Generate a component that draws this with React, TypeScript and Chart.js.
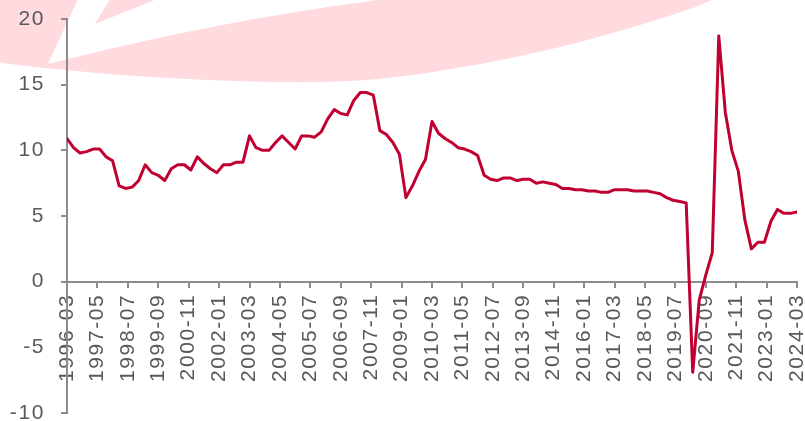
import React, { useEffect, useRef } from 'react';
import { Chart, registerables } from 'chart.js';

Chart.register(...registerables);

// Quarterly series, 1996-03 .. 2024-03 (cumulative YoY, %)
const startYear = 1996;
const gdpGrowth: number[] = [
  10.9, 10.2, 9.8, 9.9, 10.1, 10.1, 9.5, 9.2, 7.3, 7.1, 7.2, 7.7,
  8.9, 8.3, 8.1, 7.7, 8.6, 8.9, 8.9, 8.5, 9.5, 9.0, 8.6, 8.3,
  8.9, 8.9, 9.1, 9.1, 11.1, 10.2, 10.0, 10.0, 10.6, 11.1, 10.6, 10.1,
  11.1, 11.1, 11.0, 11.4, 12.4, 13.1, 12.8, 12.7, 13.8, 14.4, 14.4, 14.2,
  11.5, 11.2, 10.6, 9.7, 6.4, 7.3, 8.4, 9.3, 12.2, 11.3, 10.9, 10.6,
  10.2, 10.1, 9.9, 9.6, 8.1, 7.8, 7.7, 7.9, 7.9, 7.7, 7.8, 7.8,
  7.5, 7.6, 7.5, 7.4, 7.1, 7.1, 7.0, 7.0, 6.9, 6.9, 6.8, 6.8,
  7.0, 7.0, 7.0, 6.9, 6.9, 6.9, 6.8, 6.7, 6.4, 6.2, 6.1, 6.0,
  -6.9, -1.4, 0.5, 2.2, 18.7, 12.9, 10.0, 8.4, 4.7, 2.5, 3.0, 3.0,
  4.6, 5.5, 5.2, 5.2, 5.3,
];
const quarterMonths = ['03', '06', '09', '12'];
const quarterLabels: string[] = gdpGrowth.map(
  (_, i) => `${startYear + Math.floor(i / 4)}-${quarterMonths[i % 4]}`
);

const xTickLabels: string[] = [
  '1996-03', '1997-05', '1998-07', '1999-09', '2000-11', '2002-01', '2003-03',
  '2004-05', '2005-07', '2006-09', '2007-11', '2009-01', '2010-03', '2011-05',
  '2012-07', '2013-09', '2014-11', '2016-01', '2017-03', '2018-05', '2019-07',
  '2020-09', '2021-11', '2023-01', '2024-03',
];
const xTickStepMonths = 14;
const yMin = -10;
const yMax = 20;
const yStep = 5;

const LINE_COLOR = '#C00030';
const AXIS_COLOR = '#8c8c8c';
const TEXT_COLOR = '#595959';
const FONT_FAMILY = '"Liberation Sans", Arial, sans-serif';

function monthsFromStart(label: string): number {
  const [y, m] = label.split('-').map(Number);
  return (y - startYear) * 12 + (m - 3);
}

const watermarkPlugin = {
  id: 'watermark',
  beforeDraw(chart: any) {
    const ctx = chart.ctx as CanvasRenderingContext2D;
    ctx.save();
    // pink swoosh background
    ctx.fillStyle = 'rgb(255,219,223)';
    const pts = [
      [-20, 60], [0, 63], [100, 74], [200, 80], [300, 83], [380, 80],
      [480, 65], [580, 43], [680, 13], [713, 0], [730, -10],
    ];
    ctx.beginPath();
    ctx.moveTo(-20, -10);
    ctx.lineTo(pts[0][0], pts[0][1]);
    for (let k = 1; k < pts.length - 1; k++) {
      const mx = (pts[k][0] + pts[k + 1][0]) / 2;
      const my = (pts[k][1] + pts[k + 1][1]) / 2;
      ctx.quadraticCurveTo(pts[k][0], pts[k][1], mx, my);
    }
    ctx.lineTo(pts[pts.length - 1][0], pts[pts.length - 1][1]);
    ctx.closePath();
    ctx.fill();
    // white arrow / band
    ctx.fillStyle = '#ffffff';
    ctx.beginPath();
    ctx.moveTo(78, -1);
    ctx.lineTo(48, 64);
    ctx.quadraticCurveTo(220, 20, 385, -1);
    ctx.lineTo(157, -1);
    ctx.lineTo(95, 24);
    ctx.lineTo(110, -1);
    ctx.closePath();
    ctx.fill();
    ctx.restore();
    (ctx as any).letterSpacing = '1.6px';
  },
};

export default function App() {
  const canvasRef = useRef<HTMLCanvasElement | null>(null);

  useEffect(() => {
    document.body.style.margin = '0';
    const canvas = canvasRef.current;
    if (!canvas) return;
    const data = gdpGrowth.map((v, i) => ({ x: monthsFromStart(quarterLabels[i]), y: v }));
    const maxMonth = monthsFromStart(xTickLabels[xTickLabels.length - 1]);
    const font = { family: FONT_FAMILY, size: 21 };
    const chart = new Chart(canvas, {
      type: 'line',
      data: {
        datasets: [
          {
            label: 'GDP',
            data,
            borderColor: LINE_COLOR,
            backgroundColor: LINE_COLOR,
            borderWidth: 3,
            pointRadius: 0,
            tension: 0,
            borderJoinStyle: 'round',
            borderCapStyle: 'round',
            fill: false,
          },
        ],
      },
      options: {
        animation: false,
        responsive: false,
        maintainAspectRatio: false,
        layout: { padding: { left: 0, right: 8, top: 19, bottom: 8 } },
        plugins: {
          legend: { display: false },
          tooltip: { enabled: false },
        },
        scales: {
          x: {
            type: 'linear',
            position: { y: 0 } as any,
            min: 0,
            max: maxMonth,
            afterFit: (s: any) => {
              s.height = 0;
              s.paddingLeft = 0;
              s.paddingRight = 0;
              s.paddingTop = 0;
              s.paddingBottom = 0;
            },
            grid: {
              drawOnChartArea: false,
              drawTicks: true,
              tickLength: 5,
              color: AXIS_COLOR,
              lineWidth: 2,
            },
            border: { display: true, color: AXIS_COLOR, width: 2 },
            ticks: {
              stepSize: xTickStepMonths,
              autoSkip: false,
              maxRotation: 90,
              minRotation: 90,
              padding: 7,
              color: TEXT_COLOR,
              font,
              callback: (value: any) => {
                const k = Math.round(Number(value) / xTickStepMonths);
                return xTickLabels[k] ?? '';
              },
            },
          },
          y: {
            type: 'linear',
            min: yMin,
            max: yMax,
            afterFit: (s: any) => {
              s.width = 67;
              s.paddingTop = 0;
              s.paddingBottom = 0;
            },
            grid: {
              drawOnChartArea: false,
              drawTicks: true,
              tickLength: 6,
              color: AXIS_COLOR,
              lineWidth: 2,
            },
            border: { display: true, color: AXIS_COLOR, width: 2 },
            ticks: {
              stepSize: yStep,
              padding: 16,
              color: TEXT_COLOR,
              font,
            },
          },
        },
      },
      plugins: [watermarkPlugin],
    });
    return () => chart.destroy();
  }, []);

  return (
    <div style={{ width: 805, height: 421, position: 'relative' }}>
      <canvas ref={canvasRef} width={805} height={421} style={{ display: 'block' }} />
    </div>
  );
}
